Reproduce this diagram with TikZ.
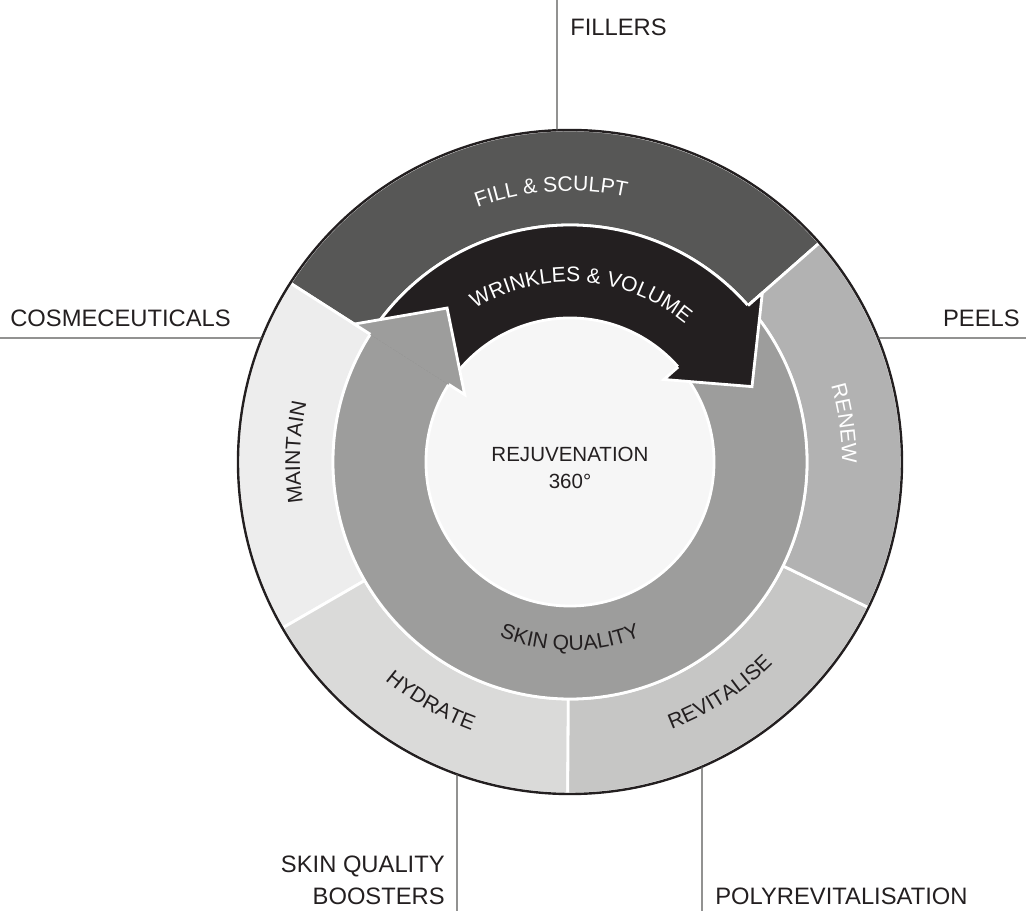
\documentclass[tikz,border=0pt]{standalone}
\usepackage{fontspec}
\setmainfont{Liberation Sans}
\usepackage{tikz}
\usetikzlibrary{decorations.text, positioning}
\definecolor{DarkInk}{HTML}{231F20}
\definecolor{SculptGray}{HTML}{575756}
\definecolor{RenewGray}{HTML}{B2B2B2}
\definecolor{RevitGray}{HTML}{C6C6C5}
\definecolor{HydrateGray}{HTML}{DADAD9}
\definecolor{MaintainGray}{HTML}{EDEDED}
\definecolor{RingGray}{HTML}{9D9D9C}
\definecolor{CoreWhite}{HTML}{F6F6F6}
\definecolor{LeaderGray}{HTML}{575756}
\newcommand{\ringfont}{\fontsize{15}{18}\selectfont}
\tikzset{
  sepline/.style={draw=white, line width=2pt, line join=miter},
  rimline/.style={draw=DarkInk, line width=1.7pt},
  leader/.style={draw=LeaderGray, line width=0.75pt},
  headfill/.style={fill=#1, draw=#1, line width=0.6pt},
  outerlabel/.style={inner sep=0pt, text=DarkInk, font=\fontsize{16.9}{22.8}\selectfont},
  corelabel/.style={inner sep=0pt, text=DarkInk, align=center, font=\fontsize{14.6}{19.2}\selectfont},
  ringtext/.style n args={2}{decorate, decoration={text along path, text align=center, text color=#1, text={|\ringfont|#2}}}
}

\begin{document}
\begin{tikzpicture}[x=0.025cm, y=0.025cm]
  \useasboundingbox (-570,-449) rectangle (456,462);

  % outer ring segments
  \foreach \from/\to/\shade in {41.3/147.4/SculptGray, 147.4/210/MaintainGray, 210/269.6/HydrateGray, 269.6/334/RevitGray, 334/401.3/RenewGray}
    \path[fill=\shade, sepline] (\from:332) arc[start angle=\from, end angle=\to, radius=332] -- (\to:237) arc[start angle=\to, end angle=\from, radius=237] -- cycle;
  \draw[rimline] (0,0) circle (332);

  % inner ring: grey arrow and dark arrow
  \fill[RingGray] (0,0) circle (237);
  \fill[DarkInk] (40.3:237) arc[start angle=40.3, end angle=147.4, radius=237] -- (147.4:144) arc[start angle=147.4, end angle=40.3, radius=144] -- cycle;
  \fill[CoreWhite] (0,0) circle (144);
  \draw[sepline] (0,0) circle (237) (0,0) circle (144);

  \path[headfill=DarkInk] (41.3:256) -- (22.5:197) -- (41.3:125) -- cycle;
  \draw[sepline] (41.3:237) -- (41.3:256) -- (22.5:197) -- (41.3:125) -- (41.3:144);
  \path[headfill=RingGray] (147.4:256) -- (128.6:197) -- (147.4:125) -- cycle;
  \draw[sepline] (147.4:237) -- (147.4:256) -- (128.6:197) -- (147.4:125) -- (147.4:144);

  % curved labels
  \path[ringtext={white}{FILL {\&} SCULPT}] (134:271) arc[start angle=134, end angle=54, radius=271];
  \path[ringtext={white}{RENEW}] (48:272) arc[start angle=48, end angle=-32, radius=272];
  \path[ringtext={DarkInk}{MAINTAIN}] (218:270) arc[start angle=218, end angle=138, radius=270];
  \path[ringtext={DarkInk}{HYDRATE}] (199.8:286) arc[start angle=199.8, end angle=279.8, radius=286];
  \path[ringtext={DarkInk}{REVITALISE}] (263:286) arc[start angle=263, end angle=343, radius=286];
  \path[ringtext={white}{WRINKLES {\&} VOLUME}] (136:180) arc[start angle=136, end angle=36, radius=180];
  \path[ringtext={DarkInk}{SKIN QUALITY}] (220:188.5) arc[start angle=220, end angle=320, radius=188.5];

  \node[corelabel] (core) at (0,-6) {REJUVENATION\\360°};

  % leaders and outer labels
  \coordinate (fillersRim) at (92.24:332);
  \coordinate (fillersEnd) at (-13,462);
  \coordinate (peelsRim) at (21.93:332);
  \coordinate (peelsEnd) at (456,124);
  \coordinate (cosmeRim) at (158.07:332);
  \coordinate (cosmeEnd) at (-570,124);
  \coordinate (boostersRim) at (250.1:332);
  \coordinate (boostersEnd) at (-113,-449);
  \coordinate (polyRim) at (-66.57:332);
  \coordinate (polyEnd) at (132,-449);
  \draw[leader] (fillersRim) -- (fillersEnd);
  \draw[leader] (peelsRim) -- (peelsEnd);
  \draw[leader] (cosmeRim) -- (cosmeEnd);
  \draw[leader] (boostersRim) -- (boostersEnd);
  \draw[leader] (polyRim) -- (polyEnd);

  \node[outerlabel, anchor=base west] (fillers) at (0,426) {FILLERS};
  \node[outerlabel, anchor=base east] (peels) at (450,135) {PEELS};
  \node[outerlabel, anchor=base west] (cosme) at (-560,135) {COSMECEUTICALS};
  \node[outerlabel, anchor=south east, align=right] (boosters) at (-125,-443) {SKIN QUALITY\\BOOSTERS};
  \node[outerlabel, anchor=base west] (poly) at (145,-443) {POLYREVITALISATION};
\end{tikzpicture}
\end{document}
